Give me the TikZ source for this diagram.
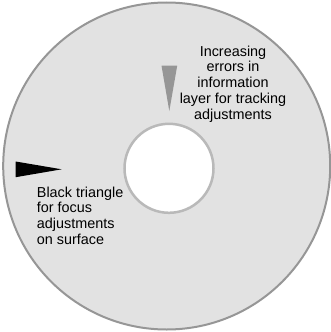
\documentclass[tikz,border=0pt]{standalone}
\usepackage{fontspec}
\setmainfont{Liberation Sans}
\definecolor{discfill}{RGB}{226,226,226}
\definecolor{discedge}{RGB}{150,150,150}
\definecolor{holeedge}{RGB}{185,185,185}
\definecolor{tracktri}{RGB}{150,150,150}
\begin{document}
\begin{tikzpicture}[x=1pt,y=-1pt,
  lbl/.style={inner sep=0pt,font=\fontsize{14.4}{15.8}\selectfont}]
\useasboundingbox (0,0) rectangle (331,332);
\path[fill=discfill,draw=discedge,line width=2pt] (166.7,166) circle[radius=163.5];
\path[fill=white,draw=holeedge,line width=2.5pt] (169,168.3) circle[radius=44.5];
\coordinate (gt1) at (161.5,65.7);
\coordinate (gt2) at (177.2,65.7);
\coordinate (gtip) at (169.3,111);
\fill[tracktri] (gt1) -- (gt2) -- (gtip) -- cycle;
\coordinate (bt1) at (15.7,161.5);
\coordinate (bt2) at (15.7,177.2);
\coordinate (btip) at (61.7,169.3);
\fill[black] (bt1) -- (bt2) -- (btip) -- cycle;
\node[lbl,align=center] (track) at (233,84) {Increasing\\errors in\\information\\layer for tracking\\adjustments};
\node[lbl,align=left,anchor=west] (focus) at (36.7,215.7) {Black triangle\\for focus\\adjustments\\on surface};
\end{tikzpicture}
\end{document}
